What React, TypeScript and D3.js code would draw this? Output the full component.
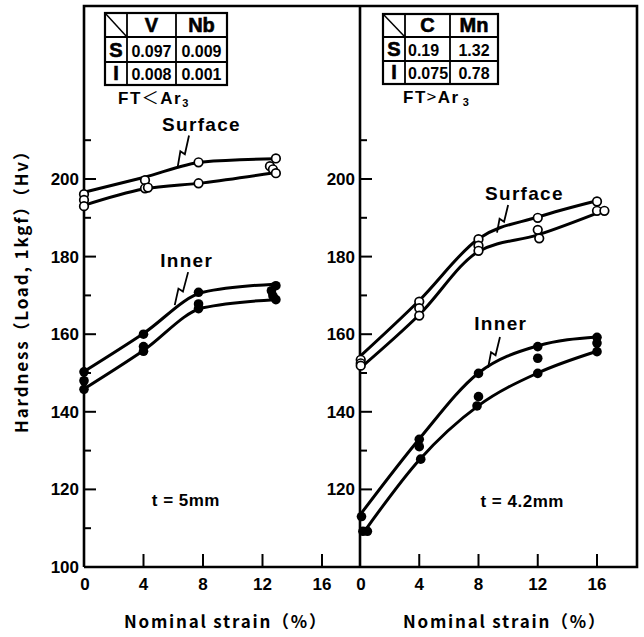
import React, { useEffect, useRef } from "react";
import * as d3 from "d3";

const W = 644;
const H = 637;

// axis ticks
const strainTicks = [0, 4, 8, 12, 16];
const hvMajor = [100, 120, 140, 160, 180, 200];
const hvMinor = [110, 130, 150, 170, 190, 210];

// left panel: t = 5mm, FT < Ar3   (fitted curves, [strain %, Hv])
const leftSurfUpper = [[0, 196.6], [4, 200.4], [8, 204.4], [12.8, 205.2]];
const leftSurfLower = [[0, 193.2], [4, 197.4], [8, 199.0], [12.8, 201.6]];
const leftInnerUpper = [[0, 150.4], [4, 160.2], [8, 170.8], [12.8, 172.9]];
const leftInnerLower = [[0, 145.9], [4, 155.8], [8, 166.8], [12.8, 168.9]];
// measured points
const leftSurfPts = [
  [0, 196.1], [0, 194.6], [0, 193.0],
  [4.1, 199.7], [4.1, 197.6], [4.3, 197.8],
  [7.7, 204.3], [7.7, 198.9],
  [12.9, 205.3], [12.5, 203.3], [12.7, 202.5], [12.9, 201.5],
];
const leftInnerPts = [
  [0, 150.3], [0, 148.0], [0, 145.8],
  [4, 160.0], [4, 156.8], [4, 155.6],
  [7.7, 170.8], [7.7, 167.8], [7.7, 166.6],
  [12.9, 172.5], [12.6, 171.2], [12.7, 169.9], [12.9, 168.9],
];

// right panel: t = 4.2mm, FT > Ar3
const rightSurfUpper = [[0, 154.3], [4, 168.7], [8, 184.6], [12, 190.2], [16, 194.4]];
const rightSurfLower = [[0, 151.2], [4, 165.0], [8, 181.3], [12, 185.6], [16.4, 191.8]];
const rightInnerUpper = [[0, 113.4], [4, 133.0], [8, 150.0], [12, 157.0], [16, 159.3]];
const rightInnerLower = [[0.3, 109.2], [4, 127.6], [8, 141.6], [12, 150.0], [16, 155.6]];
const rightSurfPts = [
  [0.05, 153.4], [0.05, 152.5], [0.05, 151.9],
  [4, 168.4], [4, 166.7], [4, 164.8],
  [8, 184.5], [8, 182.8], [8, 181.5],
  [12, 190.0], [12, 186.9], [12.1, 184.7],
  [16, 194.2], [16, 191.8], [16.5, 191.8],
];
const rightInnerPts = [
  [0.1, 113.0], [0.2, 109.2], [0.5, 109.2],
  [4, 132.9], [4, 131.0], [4.1, 127.8],
  [8, 149.9], [8, 143.9], [7.9, 141.5],
  [12, 156.8], [12, 153.8], [12, 149.9],
  [16, 159.2], [16, 157.7], [16, 155.5],
];

// composition tables
const leftTableCols = ["V", "Nb"];
const leftTableRows = [["S", "0.097", "0.009"], ["I", "0.008", "0.001"]];
const rightTableCols = ["C", "Mn"];
const rightTableRows = [["S", "0.19", "1.32"], ["I", "0.075", "0.78"]];

const NUM_FONT = "'Liberation Sans', Arial, sans-serif";
const JP_FONT = "'Noto Sans CJK JP', 'Noto Sans', sans-serif";

const App = () => {
  const ref = useRef<SVGSVGElement>(null);

  useEffect(() => {
    const svg = d3.select(ref.current);
    svg.selectAll("*").remove();

    const top = 6;
    const bottom = 567;
    const frameRight = 637;

    const y = d3.scaleLinear().domain([100, 200]).range([bottom, 179]);

    const panels = [
      {
        x: d3.scaleLinear().domain([0, 16]).range([84, 322]),
        curves: [leftSurfUpper, leftSurfLower, leftInnerUpper, leftInnerLower],
        open: leftSurfPts,
        filled: leftInnerPts,
        cols: leftTableCols,
        rows: leftTableRows,
        tx: [105, 127, 176, 227],
        ty: [13, 37, 62, 85],
        numAlign: ["middle", "middle"],
        ft: { x: 118, y: 104, sign: "＜" },
        labels: [
          { text: "Surface", s: 7.9, v: 214.3, lead: [7.06, 211.2, 6.3, 203.1] },
          { text: "Inner", s: 6.9, v: 179.0, lead: [7.0, 176.0, 6.1, 167.5] },
        ],
        thick: { text: "t = 5mm", s: 6.85, v: 117.3 },
      },
      {
        x: d3.scaleLinear().domain([0, 16]).range([360, 597]),
        curves: [rightSurfUpper, rightSurfLower, rightInnerUpper, rightInnerLower],
        open: rightSurfPts,
        filled: rightInnerPts,
        cols: rightTableCols,
        rows: rightTableRows,
        tx: [383, 405, 450, 498],
        ty: [14, 37, 61, 84],
        numAlign: ["start", "middle"],
        ft: { x: 403, y: 103, sign: ">" },
        labels: [
          { text: "Surface", s: 11.1, v: 196.4, lead: [10.0, 193.3, 9.25, 186.2] },
          { text: "Inner", s: 9.5, v: 163.0, lead: [9.45, 159.3, 8.65, 151.4] },
        ],
        thick: { text: "t = 4.2mm", s: 10.95, v: 117.1 },
      },
    ];

    // frame
    svg.append("path")
      .attr("d", `M84,${bottom}V${top}H${frameRight}V${bottom}H84`)
      .attr("fill", "none").attr("stroke", "#000").attr("stroke-width", 2.6);
    svg.append("line")
      .attr("x1", 360).attr("x2", 360).attr("y1", top).attr("y2", bottom)
      .attr("stroke", "#000").attr("stroke-width", 2.6);

    const line = d3.line<number[]>().curve(d3.curveMonotoneX);

    panels.forEach((p, pi) => {
      const x0 = p.x(0);
      const g = svg.append("g");

      // y ticks (inward); the right axis has no label at 100
      hvMajor.forEach((v) => {
        g.append("line").attr("x1", x0).attr("x2", x0 + 12).attr("y1", y(v)).attr("y2", y(v))
          .attr("stroke", "#000").attr("stroke-width", 2);
        if (pi === 1 && v === 100) return;
        g.append("text").attr("x", x0 - 5).attr("y", y(v) + 6)
          .attr("text-anchor", "end").attr("font-family", NUM_FONT).attr("font-weight", "bold")
          .attr("font-size", 17).text(v);
      });
      hvMinor.forEach((v) => {
        g.append("line").attr("x1", x0).attr("x2", x0 + 7).attr("y1", y(v)).attr("y2", y(v))
          .attr("stroke", "#000").attr("stroke-width", 2);
      });

      // x ticks
      strainTicks.forEach((s) => {
        if (s > 0) {
          g.append("line").attr("x1", p.x(s)).attr("x2", p.x(s)).attr("y1", bottom).attr("y2", bottom - 13)
            .attr("stroke", "#000").attr("stroke-width", 2);
        }
        g.append("text").attr("x", p.x(s) + (s === 0 ? 1 : 0)).attr("y", bottom + 23)
          .attr("text-anchor", "middle").attr("font-family", NUM_FONT).attr("font-weight", "bold")
          .attr("font-size", 17).text(s);
      });

      // x title
      const xc = pi === 0 ? 225 : 504;
      g.append("text").attr("x", xc).attr("y", 628).attr("text-anchor", "middle")
        .attr("font-family", JP_FONT).attr("font-weight", 700).attr("font-size", 17)
        .attr("textLength", 202).attr("lengthAdjust", "spacing")
        .text("Nominal strain（%）");

      // curves
      p.curves.forEach((c) => {
        g.append("path")
          .attr("d", line(c.map((d) => [p.x(d[0]), y(d[1])])))
          .attr("fill", "none").attr("stroke", "#000").attr("stroke-width", 3);
      });

      // points
      g.selectAll(null).data(p.filled).enter().append("circle")
        .attr("cx", (d) => p.x(d[0])).attr("cy", (d) => y(d[1])).attr("r", 4.8)
        .attr("fill", "#000");
      g.selectAll(null).data(p.open).enter().append("circle")
        .attr("cx", (d) => p.x(d[0])).attr("cy", (d) => y(d[1])).attr("r", 4.3)
        .attr("fill", "#fff").attr("stroke", "#000").attr("stroke-width", 1.7);

      // curve labels with zigzag leaders
      p.labels.forEach((l) => {
        g.append("text").attr("x", p.x(l.s)).attr("y", y(l.v) + 7)
          .attr("text-anchor", "middle").attr("font-family", NUM_FONT).attr("font-weight", "bold")
          .attr("font-size", 19).attr("letter-spacing", 1.3).text(l.text);
        const [s1, v1, s2, v2] = l.lead;
        const ax = p.x(s1), ay = y(v1), bx = p.x(s2), by = y(v2);
        const mx = ax + (bx - ax) * 0.5, my = ay + (by - ay) * 0.5;
        g.append("path")
          .attr("d", `M${ax},${ay}L${mx + 1.5},${my + 3}L${mx - 3},${my}L${bx},${by}`)
          .attr("fill", "none").attr("stroke", "#000").attr("stroke-width", 1.8);
      });

      g.append("text").attr("x", p.x(p.thick.s)).attr("y", y(p.thick.v) + 6)
        .attr("text-anchor", "middle").attr("font-family", NUM_FONT).attr("font-weight", "bold")
        .attr("font-size", 17).attr("letter-spacing", 0.5).text(p.thick.text);

      // composition table
      const [c0, c1, c2, c3] = p.tx;
      const [r0, r1, r2, r3] = p.ty;
      const tg = g.append("g").attr("stroke", "#000").attr("fill", "none");
      tg.append("rect").attr("x", c0).attr("y", r0).attr("width", c3 - c0).attr("height", r3 - r0)
        .attr("fill", "#fff").attr("stroke-width", 2.2);
      [c1, c2].forEach((cx) => tg.append("line").attr("x1", cx).attr("x2", cx).attr("y1", r0).attr("y2", r3).attr("stroke-width", 1.8));
      [r1, r2].forEach((ry) => tg.append("line").attr("x1", c0).attr("x2", c3).attr("y1", ry).attr("y2", ry).attr("stroke-width", 1.8));
      tg.append("line").attr("x1", c0).attr("y1", r0).attr("x2", c1).attr("y2", r1).attr("stroke-width", 1.5);

      p.cols.forEach((c, i) => {
        const l = [c1, c2][i], r = [c2, c3][i];
        g.append("text").attr("x", (l + r) / 2).attr("y", r1 - 5).attr("text-anchor", "middle")
          .attr("font-family", NUM_FONT).attr("font-weight", "bold").attr("font-size", 20)
          .attr("stroke", "#000").attr("stroke-width", 0.6).text(c);
      });
      p.rows.forEach((row, ri) => {
        const ry = [r2, r3][ri] - 5;
        g.append("text").attr("x", (c0 + c1) / 2).attr("y", ry).attr("text-anchor", "middle")
          .attr("font-family", NUM_FONT).attr("font-weight", "bold").attr("font-size", 20)
          .attr("stroke", "#000").attr("stroke-width", 0.6).text(row[0]);
        row.slice(1).forEach((val, ci) => {
          const l = [c1, c2][ci], r = [c2, c3][ci];
          const anchor = p.numAlign[ci];
          g.append("text").attr("x", anchor === "start" ? l + 3 : (l + r) / 2).attr("y", ry)
            .attr("text-anchor", anchor).attr("font-family", NUM_FONT).attr("font-weight", "bold")
            .attr("font-size", 16).text(val);
        });
      });

      // FT vs Ar3
      const ft = g.append("text").attr("x", p.ft.x).attr("y", p.ft.y)
        .attr("font-family", NUM_FONT).attr("font-weight", "bold").attr("font-size", 17)
        .attr("letter-spacing", 1.5);
      ft.append("tspan").text("FT");
      ft.append("tspan").attr("font-family", JP_FONT).attr("font-weight", 400).text(p.ft.sign);
      ft.append("tspan").text("Ar");
      ft.append("tspan").attr("font-size", 11).attr("dy", 3).attr("dx", pi === 1 ? 3 : 0).text("3");
    });

    // y title
    svg.append("text")
      .attr("transform", "translate(28,288) rotate(-90)")
      .attr("text-anchor", "middle").attr("font-family", JP_FONT).attr("font-weight", 700)
      .attr("font-size", 17).attr("textLength", 290).attr("lengthAdjust", "spacing")
      .text("Hardness（Load, 1kgf）（Hv）");
  }, []);

  return (
    <svg ref={ref} width={W} height={H}
      style={{ position: "absolute", left: 0, top: 0, background: "#fff" }} />
  );
};

export default App;
